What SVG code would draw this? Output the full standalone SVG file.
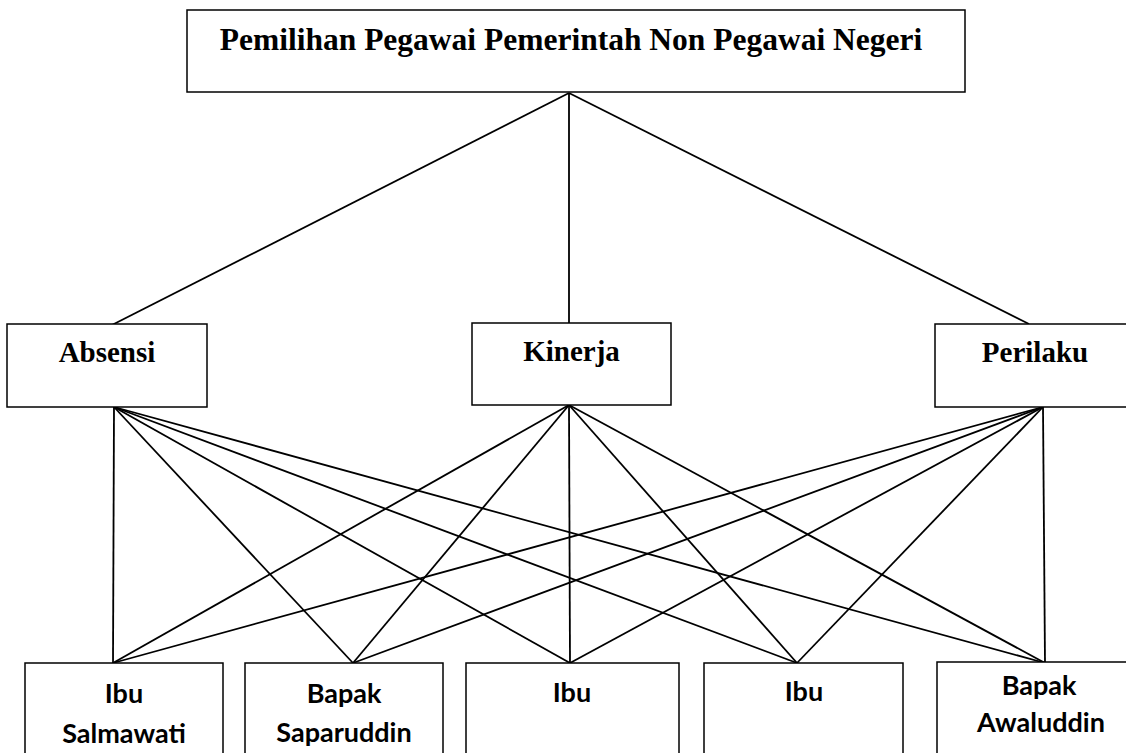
<svg xmlns="http://www.w3.org/2000/svg" width="1126" height="753" viewBox="0 0 1126 753">
<style>
.box{fill:#fff;stroke:#000;stroke-width:1.5}
.ttl{font-family:"Liberation Serif","Times New Roman",serif;font-weight:bold;fill:#000;text-anchor:middle}
.alt{font-family:Lato,"Open Sans",sans-serif;font-weight:bold;font-size:27px;fill:#000;text-anchor:middle}
.con line{stroke:#000;stroke-width:1.8}
</style>
<rect width="1126" height="753" fill="#fff"/>
<g id="connectors" class="con">
<line x1="569" y1="93" x2="110" y2="326"/>
<line x1="569" y1="93" x2="569" y2="323"/>
<line x1="569" y1="93" x2="1029" y2="324"/>
<line x1="114" y1="407" x2="113" y2="663"/>
<line x1="114" y1="407" x2="353" y2="663"/>
<line x1="114" y1="407" x2="570" y2="663"/>
<line x1="114" y1="407" x2="797" y2="663"/>
<line x1="114" y1="407" x2="1045" y2="663"/>
<line x1="569" y1="405" x2="113" y2="663"/>
<line x1="569" y1="405" x2="353" y2="663"/>
<line x1="569" y1="405" x2="570" y2="663"/>
<line x1="569" y1="405" x2="797" y2="663"/>
<line x1="569" y1="405" x2="1045" y2="663"/>
<line x1="1043" y1="407" x2="113" y2="663"/>
<line x1="1043" y1="407" x2="353" y2="663"/>
<line x1="1043" y1="407" x2="570" y2="663"/>
<line x1="1043" y1="407" x2="797" y2="663"/>
<line x1="1043" y1="407" x2="1045" y2="663"/>
</g>
<g id="goal">
<rect class="box" x="187" y="10" width="778" height="82"/>
<text class="ttl" x="571" y="50" font-size="31.5">Pemilihan Pegawai Pemerintah Non Pegawai Negeri</text>
</g>
<g id="absensi">
<rect class="box" x="7" y="324" width="200" height="83"/>
<text class="ttl" x="107" y="362" font-size="29">Absensi</text>
</g>
<g id="kinerja">
<rect class="box" x="472" y="323" width="199" height="82"/>
<text class="ttl" x="571.5" y="361" font-size="29">Kinerja</text>
</g>
<g id="perilaku">
<rect class="box" x="935" y="324" width="200" height="83"/>
<text class="ttl" x="1035" y="362" font-size="29">Perilaku</text>
</g>
<g id="alt1">
<rect class="box" x="25" y="663" width="198" height="100"/>
<text class="alt" x="124" y="703">Ibu</text>
<text class="alt" x="124" y="743">Salmawati</text>
</g>
<g id="alt2">
<rect class="box" x="245" y="663" width="198" height="100"/>
<text class="alt" x="344" y="703">Bapak</text>
<text class="alt" x="344" y="742">Saparuddin</text>
</g>
<g id="alt3">
<rect class="box" x="466" y="663" width="213" height="100"/>
<text class="alt" x="572" y="702">Ibu</text>
</g>
<g id="alt4">
<rect class="box" x="704" y="663" width="199" height="100"/>
<text class="alt" x="804" y="701">Ibu</text>
</g>
<g id="alt5">
<rect class="box" x="937" y="662" width="205" height="100"/>
<text class="alt" x="1039" y="695">Bapak</text>
<text class="alt" x="1041" y="732">Awaluddin</text>
</g>
</svg>
